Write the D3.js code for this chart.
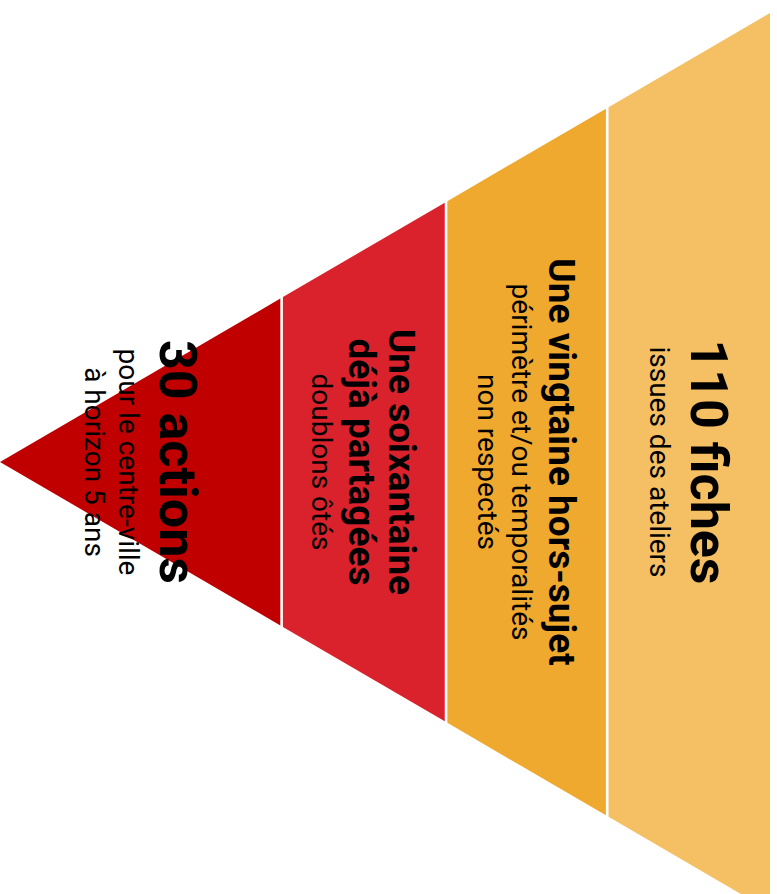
<!DOCTYPE html>
<html>
<head>
<meta charset="utf-8">
<script src="https://cdn.jsdelivr.net/npm/d3@7"></script>
<style>
  html, body { margin: 0; padding: 0; background: #fff; }
  svg { display: block; font-family: Roboto, "Noto Sans", sans-serif; }
</style>
</head>
<body>
<div id="chart"></div>
<script>
// funnel stages, from the base (right) to the tip (left)
const titles = [
  ["110 fiches"],
  ["Une vingtaine hors-sujet"],
  ["Une soixantaine", "déjà partagées"],
  ["30 actions"]
];
const subtitles = [
  ["issues des ateliers"],
  ["périmètre et/ou temporalités", "non respectés"],
  ["doublons ôtés"],
  ["pour le centre-ville", "à horizon 5 ans"]
];
// relative depth of each band along the funnel
const spans = [1, 0.99, 1.01, 1.73];
const colors = ["#f4c063", "#efa92e", "#da222c", "#c00000"];

const width = 777, height = 894;
const cy = 462;        // funnel axis
const tipX = 0, baseX = 770, baseHalf = 449;

const total = d3.sum(spans);
// position 0 = tip, total = base
const x = d3.scaleLinear().domain([0, total]).range([tipX, baseX]);
const half = d3.scaleLinear().domain([0, total]).range([0, baseHalf]);

// cumulative edges, computed from the tip
var bands = [];
var acc = 0;
for (let i = spans.length - 1; i >= 0; i--) {
  bands.push({i: i, from: acc, to: acc + spans[i]});
  acc += spans[i];
}

var svg = d3.select('#chart').append('svg')
  .attr('width', width)
  .attr('height', height);

// trapezoids
svg.append('g').attr('id','bands')
  .selectAll('path').data(bands).enter().append('path')
  .attr('fill', function(d){ return colors[d.i]; })
  .attr('d', function(d){
    return d3.line()([
      [x(d.from), cy - half(d.from)],
      [x(d.to),   cy - half(d.to)],
      [x(d.to),   cy + half(d.to)],
      [x(d.from), cy + half(d.from)]
    ]) + 'Z';
  });

// white separators between bands
svg.append('g').attr('id','separators')
  .selectAll('line').data(bands.slice(1)).enter().append('line')
  .attr('x1', function(d){ return x(d.from); })
  .attr('x2', function(d){ return x(d.from); })
  .attr('y1', function(d){ return cy - half(d.from) - 2; })
  .attr('y2', function(d){ return cy + half(d.from) + 2; })
  .attr('stroke', '#fff')
  .attr('stroke-width', 2.6);

// labels, rotated to read top to bottom
const bigSize = 52, midSize = 37, subSize = 28;

bands.forEach(function(d){
  var t = titles[d.i], s = subtitles[d.i];
  var tSize = t.length === 1 && t[0].length < 12 ? bigSize : midSize;
  var lines = [];
  t.forEach(function(txt, k){
    lines.push({text: txt, size: tSize, weight: 700, gap: k === 0 ? 0 : 40});
  });
  s.forEach(function(txt, k){
    lines.push({text: txt, size: subSize, weight: 400,
      gap: k === 0 ? (tSize === bigSize ? 41 : 37) : 34});
  });
  // baselines measured leftwards from the first line
  var off = 0;
  lines.forEach(function(l){ off += l.gap; l.off = off; });
  var top = lines[0].size * 0.711;   // cap height of first line
  var mid = (x(d.from) + x(d.to)) / 2;
  // centre the span [cap top of first line .. last baseline] on the band
  var first = mid - (top - off) / 2;

  var g = svg.append('g')
    .attr('transform', 'translate(0,' + cy + ') rotate(90)');
  g.selectAll('text').data(lines).enter().append('text')
    .attr('x', 0)
    .attr('y', function(l){ return -(first - l.off); })
    .attr('text-anchor', 'middle')
    .attr('font-size', function(l){ return l.size; })
    .attr('font-weight', function(l){ return l.weight; })
    .attr('fill', '#000')
    .text(function(l){ return l.text; });
});
</script>
</body>
</html>
